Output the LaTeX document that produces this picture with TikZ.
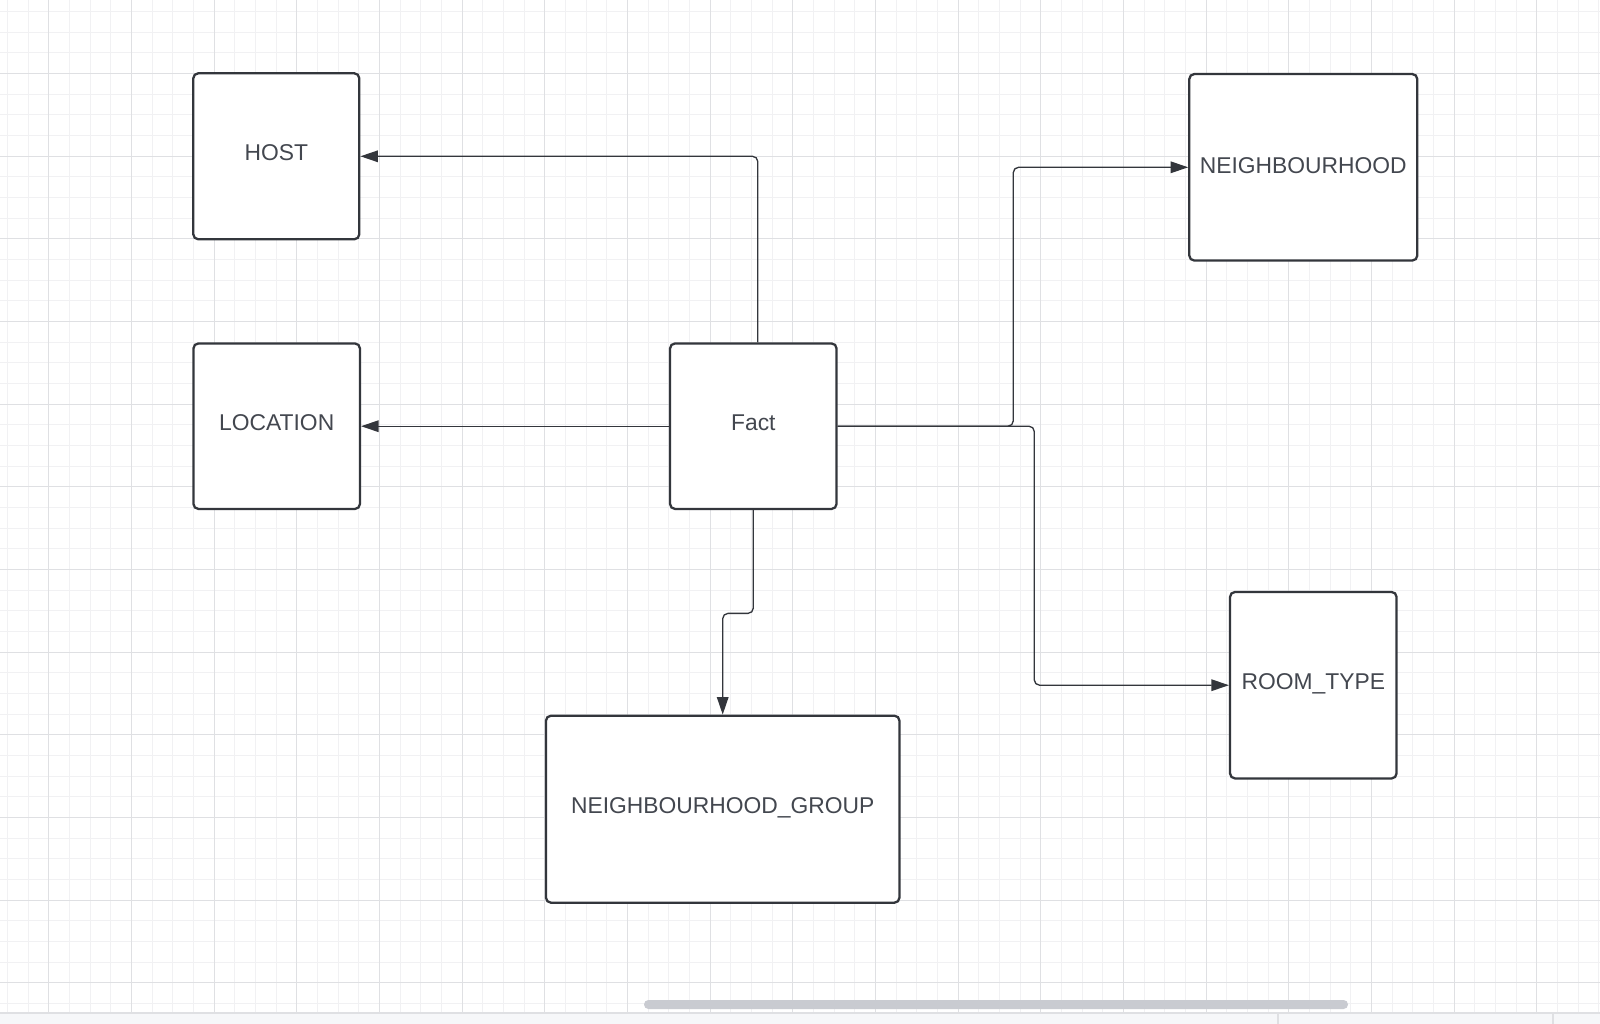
\documentclass[tikz,border=0pt]{standalone}
\usepackage{fontspec}
\setmainfont{Liberation Sans}
\usetikzlibrary{arrows.meta}

\definecolor{gridminor}{HTML}{F1F1F3}
\definecolor{gridmajor}{HTML}{DFE0E3}
\definecolor{edge}{HTML}{33363C}
\definecolor{ink}{HTML}{43474F}
\definecolor{barbg}{HTML}{F6F7F9}
\definecolor{thumb}{HTML}{C9CBD1}

\begin{document}
\begin{tikzpicture}[
    x=0.02cm,
    y=-0.02cm,
    box/.style={draw=edge, line width=1.3pt, fill=white, rounded corners=2.8pt,
        text=ink, font=\fontsize{13}{15}\selectfont,
        text height=0.72em, text depth=0.25em, inner sep=0pt},
    link/.style={draw=edge, line width=0.75pt, rounded corners=3pt,
        -{Triangle[length=10pt,width=6.6pt]}}
]

\useasboundingbox (0,0) rectangle (1600,1024);
\fill[white] (0,0) rectangle (1600,1024);

% Grid
\foreach \i in {0,...,77} {
    \draw[gridminor, line width=0.5pt] (7.33+20.667*\i,0) -- (7.33+20.667*\i,1013);
}
\foreach \i in {0,...,48} {
    \draw[gridminor, line width=0.5pt] (0,11.33+20.667*\i) -- (1600,11.33+20.667*\i);
}
\foreach \i in {0,...,18} {
    \draw[gridmajor, line width=0.55pt] (48.67+82.667*\i,0) -- (48.67+82.667*\i,1013);
}
\foreach \i in {0,...,11} {
    \draw[gridmajor, line width=0.55pt] (0,73.33+82.667*\i) -- (1600,73.33+82.667*\i);
}

% Tables
\node[box, minimum width=3.32cm, minimum height=3.32cm] (host) at (276.3,156.3) {HOST};
\node[box, minimum width=3.33cm, minimum height=3.31cm] (location) at (276.7,426.2) {LOCATION};
\node[box, minimum width=3.33cm, minimum height=3.31cm] (fact) at (753.3,426.2) {Fact};
\node[box, text depth=0pt, minimum width=4.56cm, minimum height=3.73cm] (nbhd) at (1303.3,167.3) {NEIGHBOURHOOD};
\node[box, minimum width=3.33cm, minimum height=3.73cm] (roomtype) at (1313.3,685.2) {ROOM\_TYPE};
\node[box, minimum width=7.07cm, minimum height=3.74cm] (nbgroup) at (722.7,809.2) {NEIGHBOURHOOD\_GROUP};

% Links
\draw[link] ([xshift=0.09cm]fact.north) |- (host.east);
\draw[link] (fact.west) -- (location.east);
\draw[link] (fact.east) -- ++(175.6,0) |- (nbhd.west);
\draw[link] (fact.east) -- ++(196.6,0) |- (roomtype.west);
\draw[link] (fact.south) -- ++(0,103.3) -| (nbgroup.north);

% Scroll bar
\fill[barbg] (0,1013) rectangle (1600,1024);
\draw[gridmajor, line width=0.6pt] (0,1013) -- (1600,1013);
\draw[gridmajor, line width=0.6pt] (1278,1013) -- (1278,1024);
\draw[gridmajor, line width=0.6pt] (1553,1013) -- (1553,1024);
\fill[thumb, rounded corners=2.5pt] (644,1000) rectangle (1348,1009);

\end{tikzpicture}
\end{document}
